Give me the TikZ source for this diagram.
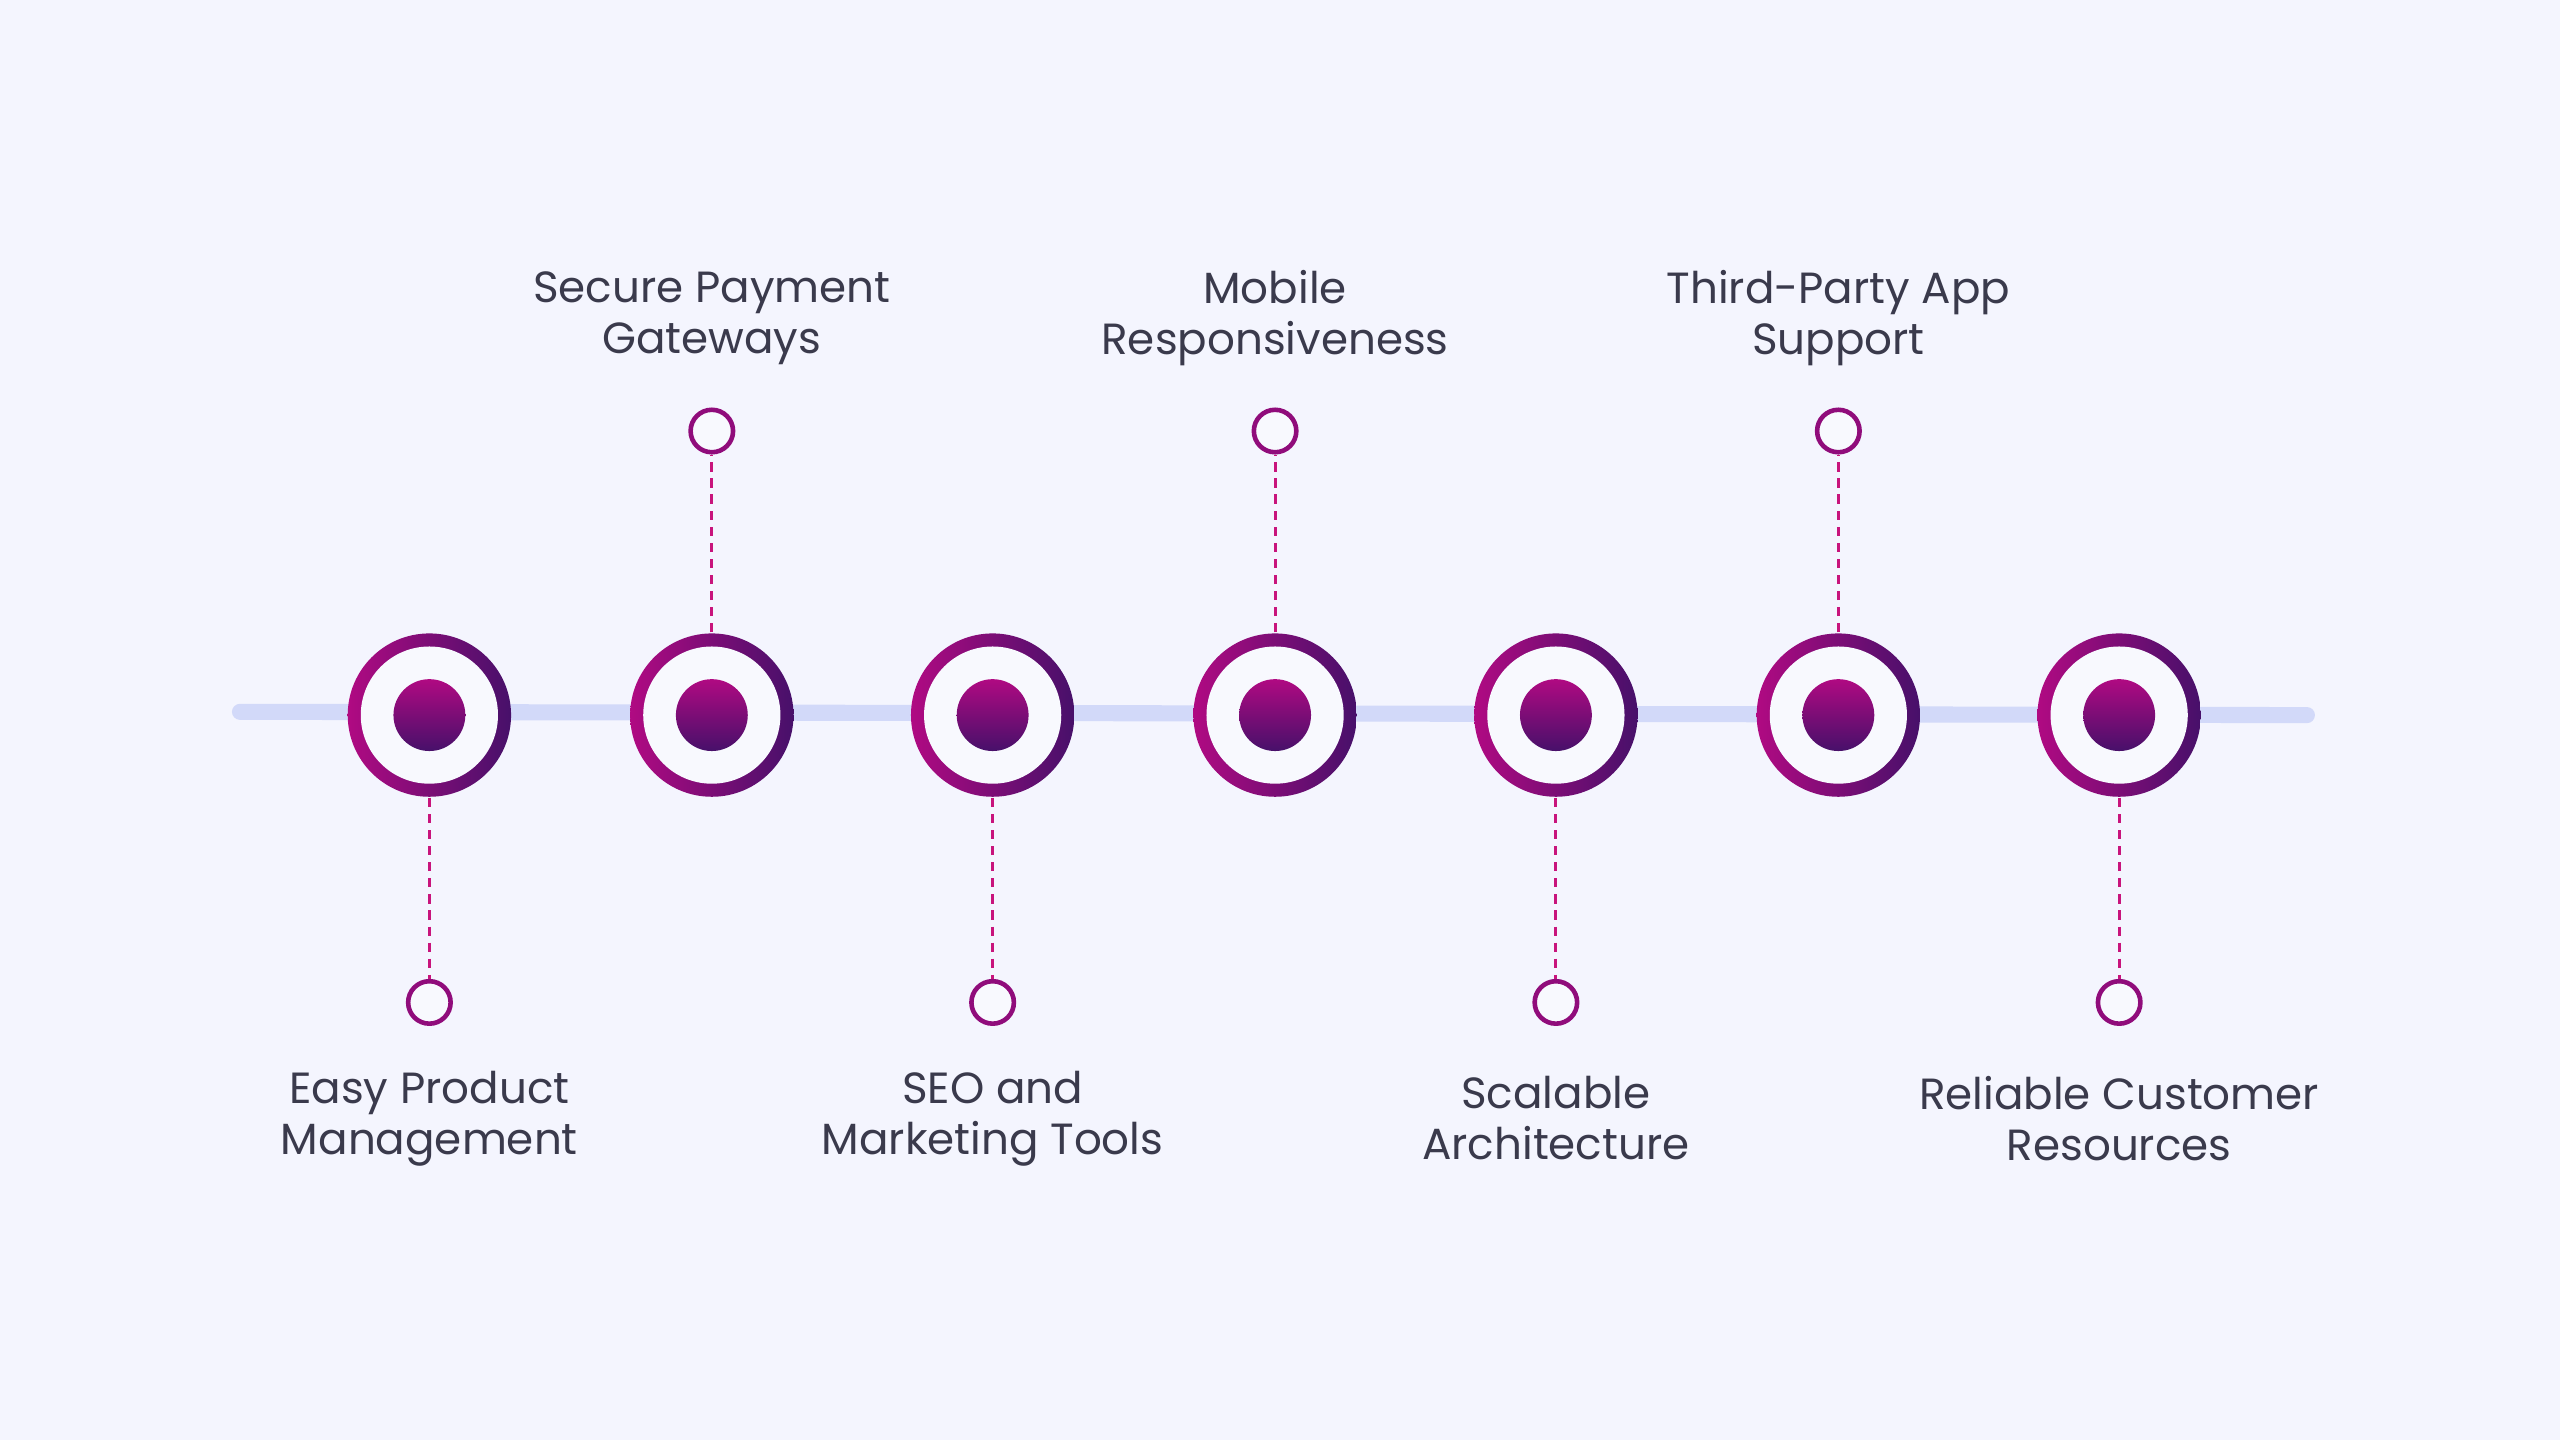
\documentclass[tikz,border=0pt]{standalone}
\usepackage{fontspec}
\setmainfont{Poppins}
\usetikzlibrary{positioning}
\definecolor{bgpage}{HTML}{F4F5FE}
\definecolor{mag}{HTML}{B00A82}
\definecolor{pur}{HTML}{47106A}
\definecolor{dashcol}{HTML}{C8147C}
\definecolor{track}{HTML}{D2D9F9}
\definecolor{txt}{HTML}{3A3A4C}
\tikzset{
  hub/.style={circle, minimum size=1cm, inner sep=0pt,
    path picture={
      \shade[left color=mag, right color=pur] (path picture bounding box.south west) rectangle (path picture bounding box.north east);
      \fill[bgpage!60!white] (path picture bounding box.center) circle (0.42cm);
      \shade[top color=mag, bottom color=pur] (path picture bounding box.center) circle (0.22cm);
    }},
  pin/.style={circle, minimum size=0.26cm, inner sep=0pt, draw=mag!70!pur, line width=0.8pt, fill=bgpage!60!white},
  label/.style={text=txt, align=center, font=\fontsize{7.6}{8.9}\selectfont},
  link/.style={dashcol, dashed, line width=0.55pt, dash pattern=on 1.6pt off 1.2pt}
}
\begin{document}
\begin{tikzpicture}[x=0.01cm, y=-0.01cm]
  % page
  \fill[bgpage] (0,0) rectangle (1568,882);
  \useasboundingbox (0,0) rectangle (1568,882);

  % track
  \coordinate (tstart) at (147,436);
  \coordinate (tend) at (1413,438);
  \draw[track, line width=2.8pt, line cap=round] (tstart) -- (tend);

  % hubs, pins and labels
  \foreach \i/\x/\side/\txt in {
      1/263/1/{Easy Product\\Management},
      2/436/-1/{Secure Payment\\Gateways},
      3/608/1/{SEO and\\Marketing Tools},
      4/781/-1/{Mobile\\Responsiveness},
      5/953/1/{Scalable\\Architecture},
      6/1126/-1/{Third-Party App\\Support},
      7/1298/1/{Reliable Customer\\Resources}} {
    \node[hub] (hub\i) at (\x,438) {};
    \node[pin] (pin\i) at (\x,{439+\side*175}) {};
    \node[label] (lab\i) at (\x,{440+\side*245}) {\txt};
    \draw[link] (hub\i) -- (pin\i);
  }
\end{tikzpicture}
\end{document}
